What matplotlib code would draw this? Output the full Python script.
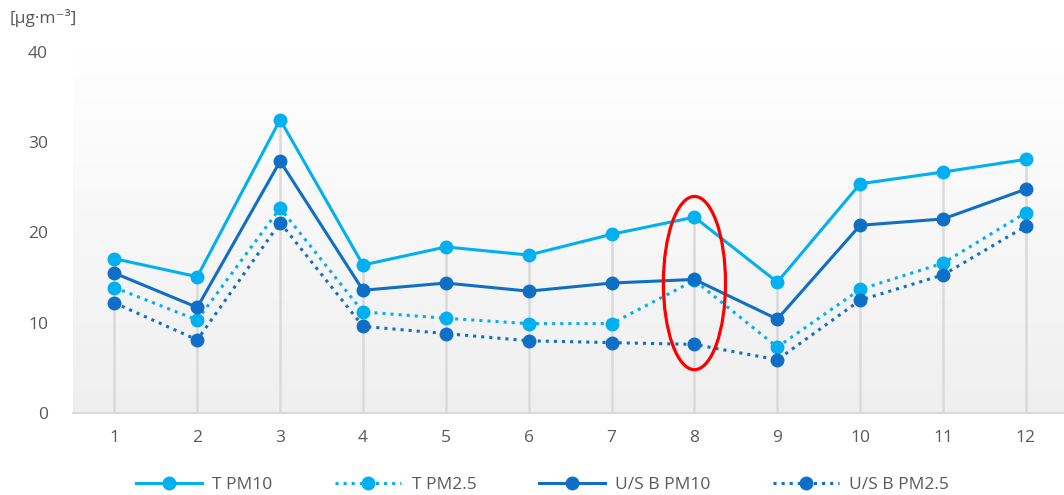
import matplotlib.pyplot as plt
import numpy as np
from matplotlib.patches import Ellipse

plt.rcParams['font.family'] = ['Open Sans', 'DejaVu Sans']

# months 1..12
x = [1, 2, 3, 4, 5, 6, 7, 8, 9, 10, 11, 12]
t_pm10 = [17.1, 15.1, 32.5, 16.4, 18.4, 17.5, 19.8, 21.7, 14.5, 25.4, 26.7, 28.1]
t_pm25 = [13.9, 10.3, 22.7, 11.2, 10.5, 9.9, 9.9, 14.7, 7.3, 13.7, 16.6, 22.2]
usb_pm10 = [15.5, 11.7, 27.9, 13.6, 14.4, 13.5, 14.4, 14.8, 10.4, 20.8, 21.5, 24.8]
usb_pm25 = [12.2, 8.1, 21.1, 9.6, 8.8, 8.0, 7.8, 7.6, 5.9, 12.5, 15.3, 20.7]

light = '#00B0F0'
dark = '#0F6FC6'
txt = '#595959'

fig = plt.figure(figsize=(10.64, 4.95), dpi=100)
ax = fig.add_axes([73/1064, 82/495, 991/1064, 361/495])
ax.set_xlim(0.5, 12.46)
ax.set_ylim(0, 40)

# gradient background (white on top -> light gray at bottom)
grad = np.linspace(0, 1, 256).reshape(-1, 1)
ax.imshow(grad, extent=[0.5, 12.46, 0, 40], aspect='auto', origin='upper',
          cmap=plt.matplotlib.colors.LinearSegmentedColormap.from_list('g', ['#ffffff', '#efefef']),
          zorder=0)

# drop lines
tops = np.max([t_pm10, t_pm25, usb_pm10, usb_pm25], axis=0)
ax.vlines(x, 0, tops, color='#dadada', lw=1.8, zorder=1)

ms = 9
ax.plot(x, t_pm10, '-', color=light, lw=2.2, marker='o', ms=ms, label='T PM10', zorder=3)
ax.plot(x, t_pm25, ':', color=light, lw=2.2, marker='o', ms=ms, label='T PM2.5', zorder=3)
ax.plot(x, usb_pm10, '-', color=dark, lw=2.2, marker='o', ms=ms, label='U/S B PM10', zorder=4)
ax.plot(x, usb_pm25, ':', color=dark, lw=2.2, marker='o', ms=ms, label='U/S B PM2.5', zorder=4)

ax.add_patch(Ellipse((8, 14.4), 0.75, 19.2, fill=False, edgecolor='#FF0000', lw=2.3, zorder=5))

for s in ['top', 'right', 'left']:
    ax.spines[s].set_visible(False)
ax.spines['bottom'].set_color('#d9d9d9')
ax.spines['bottom'].set_linewidth(1.5)
ax.set_xticks(x)
ax.set_yticks([0, 10, 20, 30, 40])
ax.tick_params(length=0, labelsize=12.5, colors=txt, pad=12)
ax.tick_params(axis='y', pad=18)

fig.text(10/1064, 1 - 18/495, '[µg·m⁻³]', fontsize=12.5, color=txt, va='center')

leg = fig.legend(loc='center', bbox_to_anchor=(0.51, 1 - 485/495), ncol=4, frameon=False,
                 handlelength=3.8, handletextpad=0.6, columnspacing=3.6,
                 fontsize=12.5, labelcolor=txt)

fig.savefig('out.png', dpi=100)
